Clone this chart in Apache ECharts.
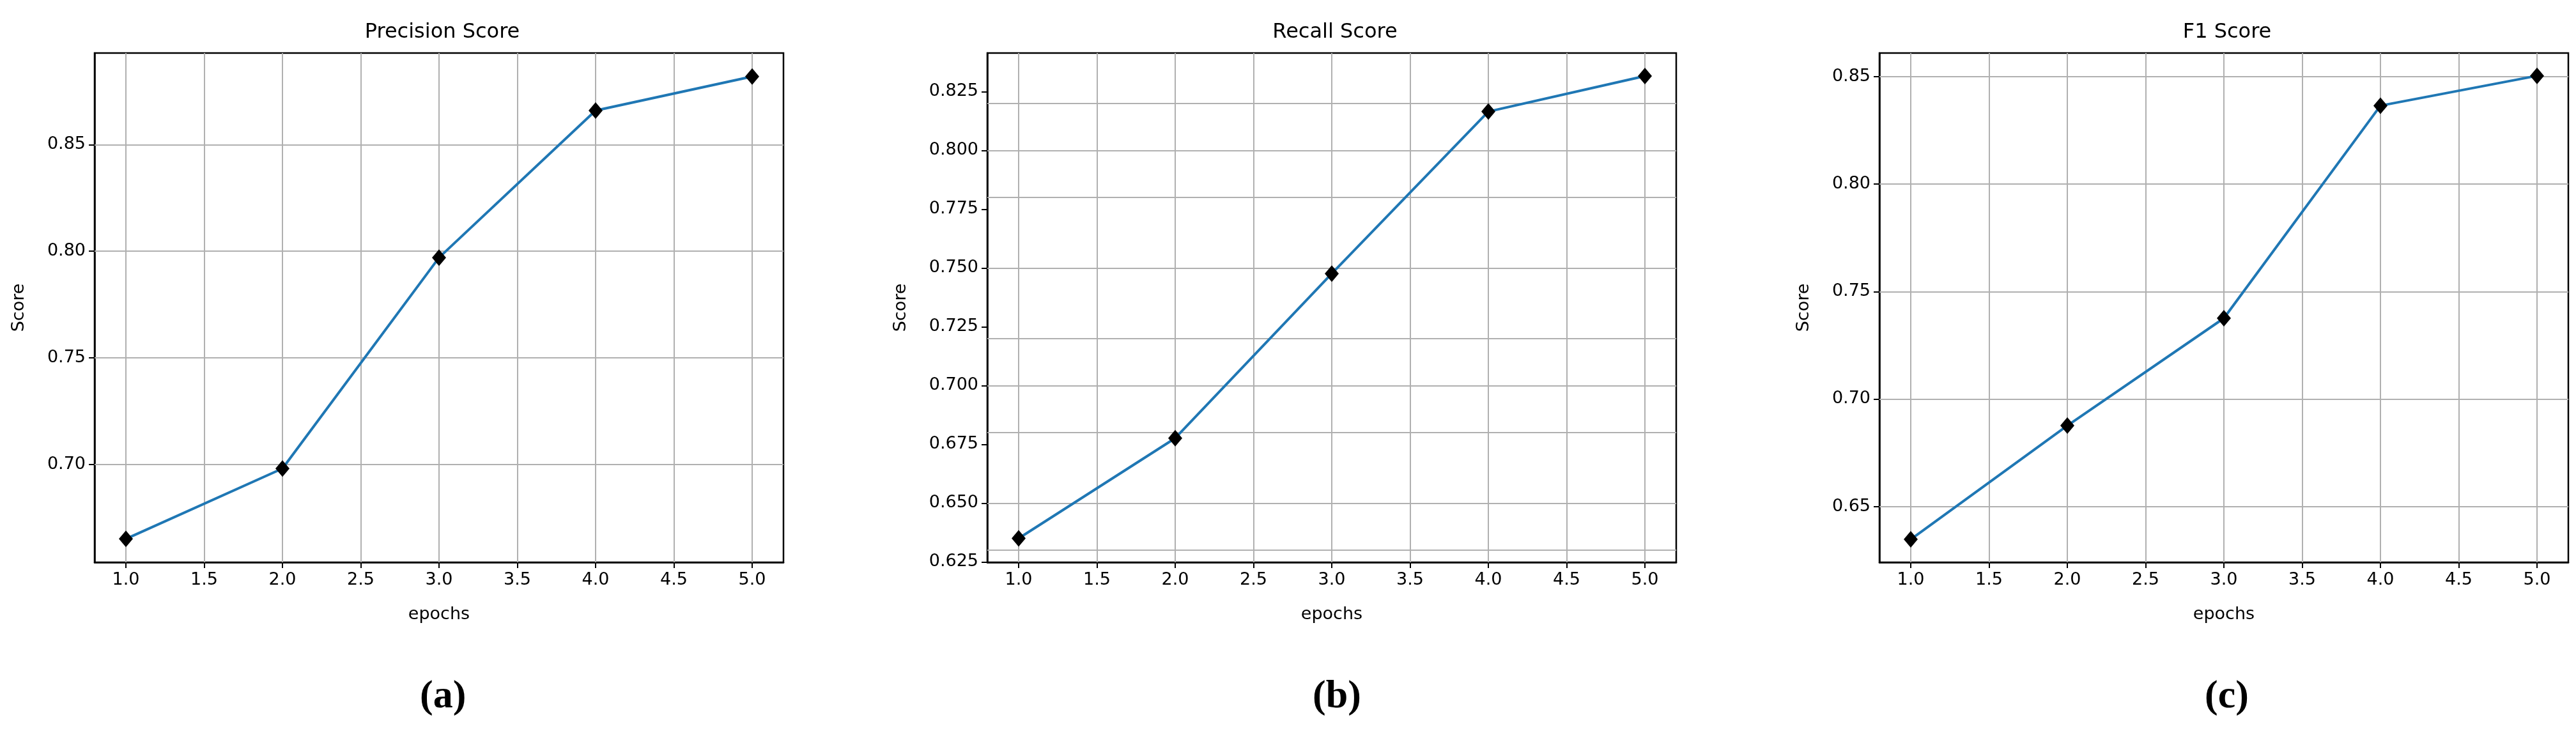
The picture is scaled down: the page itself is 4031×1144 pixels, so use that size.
<!DOCTYPE html>
<html>
<head>
<meta charset="utf-8">
<script src="https://cdn.jsdelivr.net/npm/echarts@6/dist/echarts.min.js"></script>
<style>html,body{margin:0;background:#fff}#chart{width:4031px;height:1144px}</style>
</head>
<body>
<div id="chart"></div>
<script>
const epochs = [1, 2, 3, 4, 5];
const precision = [0.665, 0.698, 0.797, 0.866, 0.882];
const recall = [0.635, 0.6776, 0.7476, 0.8165, 0.8316];
const f1 = [0.6347, 0.6876, 0.7376, 0.8365, 0.8504];
const xTicks = [1.0, 1.5, 2.0, 2.5, 3.0, 3.5, 4.0, 4.5, 5.0];
const precisionTicks = [0.70, 0.75, 0.80, 0.85];
const recallTicks = [0.625, 0.650, 0.675, 0.700, 0.725, 0.750, 0.775, 0.800, 0.825];
const f1Ticks = [0.65, 0.70, 0.75, 0.80, 0.85];

const panels = [
    {title: 'Precision Score', caption: '(a)', data: precision, ticks: precisionTicks, digits: 2, left: 148, yMin: 0.654, yMax: 0.893},
    {title: 'Recall Score', caption: '(b)', data: recall, ticks: recallTicks, digits: 3, left: 1545, yMin: 0.6248, yMax: 0.8414},
    {title: 'F1 Score', caption: '(c)', data: f1, ticks: f1Ticks, digits: 2, left: 2941, yMin: 0.624, yMax: 0.861}
];

const W = 1078, TOP = 83, H = 797;
const font = 'DejaVu Sans';
const gridLine = {color: '#b0b0b0', width: 2, type: 'solid'};

const option = {
    animation: false,
    title: [], grid: [], xAxis: [], yAxis: [], series: [], graphic: []
};

panels.forEach((p, i) => {
    option.title.push({
        text: p.title, left: p.left + W / 2, top: 30, textAlign: 'center',
        textStyle: {fontFamily: font, fontWeight: 'normal', fontSize: 32, color: '#000'}
    });
    option.graphic.push({
        type: 'text', left: p.left + W / 2 - 30, top: 1060,
        style: {text: p.caption, font: 'bold 62px "Liberation Serif", serif', fill: '#000'}
    });
    option.grid.push({
        left: p.left, top: TOP, width: W, height: H,
        show: true, borderColor: '#000', borderWidth: 2.5, backgroundColor: '#fff'
    });
    option.xAxis.push({
        type: 'value', gridIndex: i, min: 0.8, max: 5.2,
        name: 'epochs', nameLocation: 'middle', nameGap: 68,
        nameTextStyle: {fontFamily: font, fontSize: 27, color: '#000'},
        axisLine: {show: true, onZero: false, lineStyle: {color: '#000', width: 2.5}},
        axisTick: {show: true, customValues: xTicks, length: 9, lineStyle: {color: '#000', width: 2}},
        axisLabel: {customValues: xTicks, formatter: v => v.toFixed(1), fontFamily: font, fontSize: 27, color: '#000', margin: 14},
        splitLine: {show: false}
    });
    option.yAxis.push({
        type: 'value', gridIndex: i, min: p.yMin, max: p.yMax,
        name: 'Score', nameLocation: 'middle', nameRotate: 90,
        nameGap: p.digits === 3 ? 122 : 105,
        nameTextStyle: {fontFamily: font, fontSize: 27, color: '#000'},
        axisLine: {show: true, onZero: false, lineStyle: {color: '#000', width: 2.5}},
        axisTick: {show: true, customValues: p.ticks, length: 9, lineStyle: {color: '#000', width: 2}},
        axisLabel: {customValues: p.ticks, formatter: v => v.toFixed(p.digits), fontFamily: font, fontSize: 27, color: '#000', margin: 14},
        splitLine: {show: false}
    });
    option.series.push({
        type: 'line', xAxisIndex: i, yAxisIndex: i,
        data: epochs.map((e, k) => [e, p.data[k]]),
        symbol: 'diamond', symbolSize: [22, 26],
        itemStyle: {color: '#000'},
        lineStyle: {color: '#1f77b4', width: 4},
        z: 5,
        markLine: {
            silent: true, symbol: 'none', label: {show: false},
            lineStyle: gridLine, z: 1,
            data: xTicks.map(v => ({xAxis: v})).concat(p.ticks.map(v => ({yAxis: v})))
        }
    });
});

const chart = echarts.init(document.getElementById('chart'));
chart.setOption(option);
</script>
</body>
</html>
